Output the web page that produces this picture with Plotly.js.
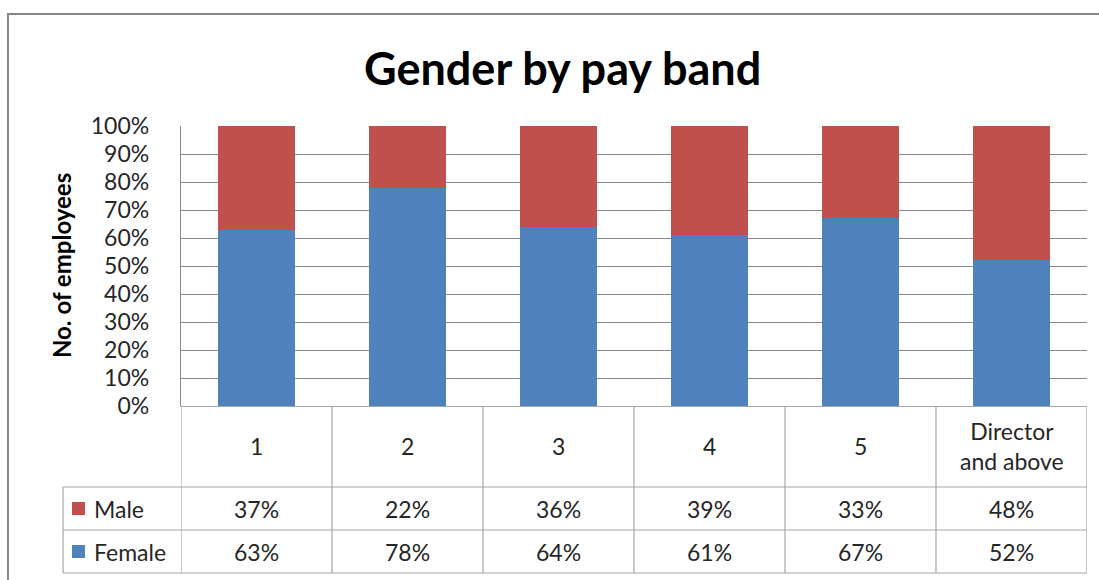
<!DOCTYPE html>
<html><head><meta charset="utf-8">
<script src="https://cdn.plot.ly/plotly-3.0.1.min.js"></script>
<style>body{margin:0;padding:0;background:#fff}#chart{width:1099px;height:580px}</style>
</head><body><div id="chart"></div>
<script>
const categories = ['1', '2', '3', '4', '5', 'Director<br>and above'];
const female = [0.63, 0.78, 0.64, 0.61, 0.67, 0.52];
const male = [0.37, 0.22, 0.36, 0.39, 0.33, 0.48];
const seriesNames = ['Male', 'Female'];
const colors = {Male: '#C0504D', Female: '#4F81BD'};

const FONT = 'Lato, "Open Sans", sans-serif';
const gridCol = '#8a8a8a';
const tabCol = '#a6a6a6';
const txtCol = '#262626';

const xIdx = categories.map((c, i) => i);

const traces = [
  {type: 'bar', name: 'Female', x: xIdx, y: female, marker: {color: colors.Female}, hoverinfo: 'none'},
  {type: 'bar', name: 'Male', x: xIdx, y: male, marker: {color: colors.Male}, hoverinfo: 'none'}
];

// table geometry (paper coords)
const rowY = [-0.2893, -0.4429, -0.5964];
const leftX = -0.1302;
const shapes = [];
// outer border
shapes.push({type: 'rect', xref: 'paper', yref: 'paper', x0: -0.191, x1: 1.06, y0: -0.7, y1: 1.4,
  line: {color: '#878787', width: 2}, fillcolor: 'rgba(0,0,0,0)'});
// cover top gridline
shapes.push({type: 'line', xref: 'paper', yref: 'y', x0: 0.0015, x1: 1.0, y0: 1, y1: 1, layer: 'between',
  line: {color: '#ffffff', width: 2}});
// vertical table lines at category boundaries
for (let i = 0; i <= categories.length; i++) {
  shapes.push({type: 'line', xref: 'x', yref: 'paper', x0: i - 0.5, x1: i - 0.5, y0: 0, y1: rowY[2],
    line: {color: tabCol, width: 1.2}});
}
// left legend column vertical
shapes.push({type: 'line', xref: 'paper', yref: 'paper', x0: leftX, x1: leftX, y0: rowY[0], y1: rowY[2],
  line: {color: tabCol, width: 1.2}});
// horizontal table lines
rowY.forEach(y => shapes.push({type: 'line', xref: 'paper', yref: 'paper', x0: leftX, x1: 1, y0: y, y1: y,
  line: {color: tabCol, width: 1.2}}));

const annotations = [];
// title
annotations.push({xref: 'paper', yref: 'paper', x: 0.4216, y: 1.207, text: '<b>Gender by pay band</b>',
  showarrow: false, font: {family: FONT, size: 45, color: '#000'}, xanchor: 'center', yanchor: 'middle'});
// y axis title
annotations.push({xref: 'paper', yref: 'paper', x: -0.1324, y: 0.5, text: '<b>No. of employees</b>', textangle: -90,
  showarrow: false, font: {family: FONT, size: 24, color: '#000'}, xanchor: 'center', yanchor: 'middle'});
// category labels
categories.forEach((c, i) => annotations.push({xref: 'x', yref: 'paper', x: i, y: -0.1446, text: c,
  showarrow: false, font: {family: FONT, size: 23, color: txtCol}, xanchor: 'center', yanchor: 'middle'}));
// table rows
const rowData = {Male: male, Female: female};
seriesNames.forEach((s, r) => {
  const yc = (rowY[r] + rowY[r + 1]) / 2;
  rowData[s].forEach((v, i) => annotations.push({xref: 'x', yref: 'paper', x: i, y: yc,
    text: Math.round(v * 100) + '%', showarrow: false, font: {family: FONT, size: 23, color: txtCol},
    xanchor: 'center', yanchor: 'middle'}));
  annotations.push({xref: 'paper', yref: 'paper', x: -0.0983, y: yc, text: s, showarrow: false,
    font: {family: FONT, size: 23, color: txtCol}, xanchor: 'left', yanchor: 'middle'});
  shapes.push({type: 'rect', xref: 'paper', yref: 'paper', x0: -0.1203, x1: -0.1060,
    y0: yc - 0.0232, y1: yc + 0.0232, line: {width: 0}, fillcolor: colors[s]});
});

const layout = {
  width: 1099, height: 580,
  margin: {l: 181, r: 12, t: 126, b: 174, pad: 0},
  paper_bgcolor: '#fff', plot_bgcolor: '#fff',
  barmode: 'stack', bargap: 0.49,
  showlegend: false,
  font: {family: FONT, color: txtCol},
  xaxis: {type: 'linear', range: [-0.5, categories.length - 0.5], showticklabels: false, ticks: '',
    showgrid: false, zeroline: false, showline: true, linecolor: tabCol, linewidth: 1.2, fixedrange: true},
  yaxis: {range: [0, 1], dtick: 0.1, tick0: 0, tickformat: '.0%', showgrid: true, gridcolor: gridCol, gridwidth: 1,
    zeroline: false, showline: true, linecolor: gridCol, linewidth: 1.2, ticks: '', ticklabelstandoff: 26,
    tickfont: {family: FONT, size: 23, color: txtCol}, fixedrange: true},
  shapes: shapes, annotations: annotations
};
Plotly.newPlot('chart', traces, layout, {displayModeBar: false, staticPlot: true});
</script></body></html>
